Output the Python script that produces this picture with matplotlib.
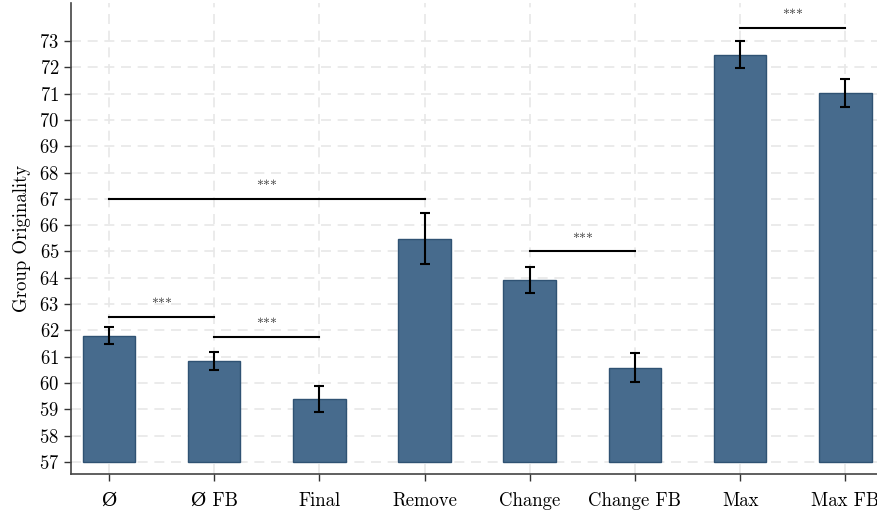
import matplotlib
matplotlib.use("Agg")
import matplotlib.pyplot as plt

plt.rcParams['font.family'] = ['cmr10', 'DejaVu Serif']
plt.rcParams['axes.formatter.use_mathtext'] = True

conditions = ['Ø', 'Ø FB', 'Final', 'Remove', 'Change', 'Change FB', 'Max', 'Max FB']
means = [61.8, 60.84, 59.4, 65.48, 63.9, 60.57, 72.48, 71.03]
err_low = [61.48, 60.5, 58.9, 64.53, 63.43, 60.03, 71.98, 70.48]
err_high = [62.14, 61.17, 59.9, 66.47, 64.4, 61.15, 73.0, 71.57]

# significance brackets: (left index, right index, height, label)
brackets = [(0, 1, 62.5, '***'), (1, 2, 61.75, '***'), (0, 3, 67.0, '***'),
            (4, 5, 65.0, '***'), (6, 7, 73.5, '***')]

base = 57
fig = plt.figure(figsize=(8.78, 5.13), dpi=100)
ax = fig.add_axes([0.081, 0.076, 0.919, 0.918])

x = list(range(len(conditions)))
heights = [m - base for m in means]
ax.bar(x, heights, bottom=base, width=0.5, color='#476b8d',
       edgecolor='#2f5273', linewidth=1.0, zorder=3)
yerr = [[m - lo for m, lo in zip(means, err_low)],
        [hi - m for m, hi in zip(means, err_high)]]
ax.errorbar(x, means, yerr=yerr, fmt='none', ecolor='black',
            elinewidth=1.5, capsize=3.5, capthick=1.5, zorder=4)

for i, j, h, lab in brackets:
    ax.plot([i, j], [h, h], color='black', lw=1.5, zorder=4)
    ax.text((i + j) / 2, h + 0.22, lab, ha='center', va='bottom',
            fontsize=10, color='#333333')

ax.set_xlim(-0.36, 7.31)
ax.set_ylim(56.54, 74.44)
ax.set_yticks(range(57, 74))
ax.set_xticks(x)
ax.set_xticklabels(conditions)
ax.set_ylabel('Group Originality', fontsize=13.5, labelpad=6)
ax.tick_params(labelsize=13.5, length=5, width=1, color='#333333')
ax.tick_params(axis='x', pad=8)

ax.grid(True, color='#e8e8e8', linestyle=(0, (6, 4)), linewidth=1.2, zorder=0)
ax.set_axisbelow(True)
for side in ['top', 'right']:
    ax.spines[side].set_visible(False)
for side in ['left', 'bottom']:
    ax.spines[side].set_color('#444444')
    ax.spines[side].set_linewidth(1.2)

fig.savefig('out.png', dpi=100)
